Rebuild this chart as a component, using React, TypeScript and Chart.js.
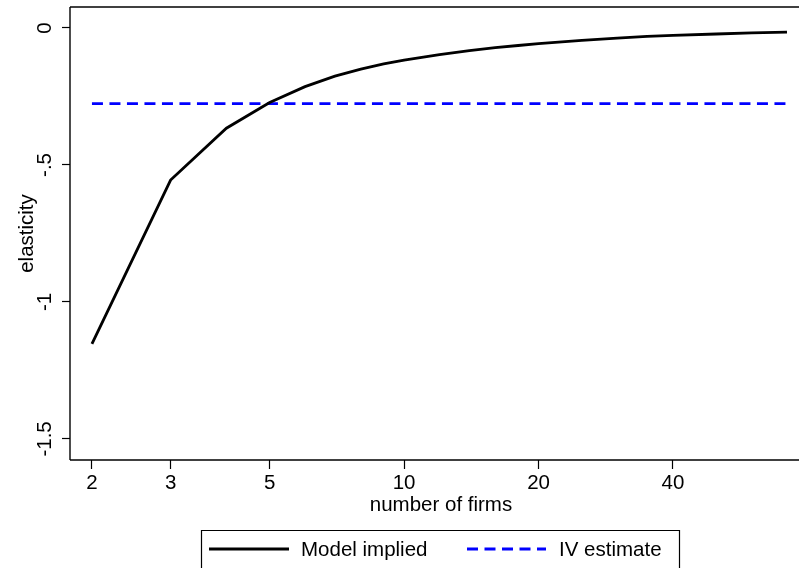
import React, { useEffect, useRef } from "react";
import { Chart, registerables } from "chart.js";

Chart.register(...registerables);

// ---- data ----
const firms = [2, 3, 4, 5, 6, 7, 8, 9, 10, 12, 14, 16, 18, 20, 25, 30, 35, 40, 50, 60, 72];
const modelImplied = [
  -1.153, -0.555, -0.366, -0.272, -0.214, -0.176, -0.150, -0.131, -0.117, -0.097,
  -0.083, -0.072, -0.064, -0.057, -0.045, -0.037, -0.031, -0.027, -0.022, -0.018, -0.015,
];
const ivFirms = [2, 72];
const ivEstimate = [-0.276, -0.276];

const xTicks = [2, 3, 5, 10, 20, 40];
const yTicks = [-1.5, -1, -0.5, 0];
const yTickLabels = ["-1.5", "-1", "-.5", "0"];

const seriesLabels = ["Model implied", "IV estimate"];
const xTitle = "number of firms";
const yTitle = "elasticity";

const FONT = "'Liberation Sans', Arial, Helvetica, sans-serif";
const FS = 20.5;

const overlay = {
  id: "stataOverlay",
  afterDraw(chart: any) {
    const { ctx, chartArea } = chart;
    const ys = chart.scales.y;
    const W = chart.width;
    ctx.save();
    // frame: top, left and bottom edges only
    ctx.strokeStyle = "#000";
    ctx.lineWidth = 1.4;
    ctx.beginPath();
    ctx.moveTo(chartArea.left, chartArea.top);
    ctx.lineTo(W, chartArea.top);
    ctx.stroke();
    ctx.beginPath();
    ctx.moveTo(chartArea.left, chartArea.top);
    ctx.lineTo(chartArea.left, chartArea.bottom);
    ctx.stroke();
    ctx.beginPath();
    ctx.moveTo(chartArea.left, chartArea.bottom);
    ctx.lineTo(W, chartArea.bottom);
    ctx.stroke();

    ctx.fillStyle = "#000";
    ctx.font = `${FS}px ${FONT}`;
    // y tick labels (rotated)
    yTicks.forEach((v, i) => {
      const py = ys.getPixelForValue(v);
      ctx.save();
      ctx.translate(51, py);
      ctx.rotate(-Math.PI / 2);
      ctx.textAlign = "center";
      ctx.textBaseline = "alphabetic";
      ctx.fillText(yTickLabels[i], 0, 0);
      ctx.restore();
    });
    // y title
    ctx.save();
    ctx.translate(33, (chartArea.top + chartArea.bottom) / 2);
    ctx.rotate(-Math.PI / 2);
    ctx.textAlign = "center";
    ctx.textBaseline = "alphabetic";
    ctx.fillText(yTitle, 0, 0);
    ctx.restore();
    // x title
    ctx.textAlign = "center";
    ctx.textBaseline = "alphabetic";
    ctx.fillText(xTitle, 441, 511);

    // legend box (bottom edge falls below the picture)
    ctx.lineWidth = 1.2;
    ctx.strokeStyle = "#000";
    ctx.beginPath();
    ctx.moveTo(201.5, chart.height);
    ctx.lineTo(201.5, 530.5);
    ctx.lineTo(679.5, 530.5);
    ctx.lineTo(679.5, chart.height);
    ctx.stroke();
    const ly = 549;
    ctx.lineWidth = 3;
    ctx.strokeStyle = "#000";
    ctx.beginPath();
    ctx.moveTo(209, ly);
    ctx.lineTo(289, ly);
    ctx.stroke();
    ctx.strokeStyle = "#0000ff";
    ctx.setLineDash([11, 6.5]);
    ctx.beginPath();
    ctx.moveTo(467, ly);
    ctx.lineTo(546, ly);
    ctx.stroke();
    ctx.setLineDash([]);
    ctx.textAlign = "left";
    ctx.fillText(chart.data.datasets[0].label, 301, 556);
    ctx.fillText(chart.data.datasets[1].label, 559, 556);
    ctx.restore();
  },
};

export default function App() {
  const ref = useRef<HTMLCanvasElement>(null);
  useEffect(() => {
    document.body.style.margin = "0";
    document.body.style.overflow = "hidden";
    const chart = new Chart(ref.current!, {
      type: "line",
      data: {
        datasets: [
          {
            label: seriesLabels[0],
            data: firms.map((n, i) => ({ x: n, y: modelImplied[i] })),
            borderColor: "#000000",
            borderWidth: 2.8,
            pointRadius: 0,
            tension: 0,
            fill: false,
          },
          {
            label: seriesLabels[1],
            data: ivFirms.map((n, i) => ({ x: n, y: ivEstimate[i] })),
            borderColor: "#0000ff",
            borderWidth: 2.8,
            borderDash: [11, 6.5],
            pointRadius: 0,
            tension: 0,
            fill: false,
          },
        ],
      },
      options: {
        responsive: false,
        animation: false,
        layout: { padding: { top: 7, right: 0, left: 0, bottom: 0 } },
        plugins: { legend: { display: false }, tooltip: { enabled: false } },
        scales: {
          x: {
            type: "logarithmic",
            min: 1.786,
            max: 76.6,
            afterBuildTicks: (s: any) => {
              s.ticks = xTicks.map((v) => ({ value: v }));
            },
            afterFit: (s: any) => {
              s.height = 108;
            },
            ticks: {
              autoSkip: false,
              maxRotation: 0,
              color: "#000",
              font: { family: FONT, size: FS },
              padding: 2,
              callback: (v: any) => String(v),
            },
            grid: {
              drawOnChartArea: false,
              drawTicks: true,
              tickLength: 9,
              tickColor: "#000",
              tickWidth: 1.2,
            },
            border: { display: false },
          },
          y: {
            type: "linear",
            min: -1.577,
            max: 0.0766,
            afterBuildTicks: (s: any) => {
              s.ticks = yTicks.map((v) => ({ value: v }));
            },
            afterFit: (s: any) => {
              s.width = 70;
            },
            ticks: { display: false },
            grid: {
              drawOnChartArea: false,
              drawTicks: true,
              tickLength: 8,
              tickColor: "#000",
              tickWidth: 1.2,
            },
            border: { display: false },
          },
        },
      },
      plugins: [overlay],
    });
    return () => chart.destroy();
  }, []);
  return <canvas ref={ref} width={799} height={568} style={{ display: "block" }} />;
}
